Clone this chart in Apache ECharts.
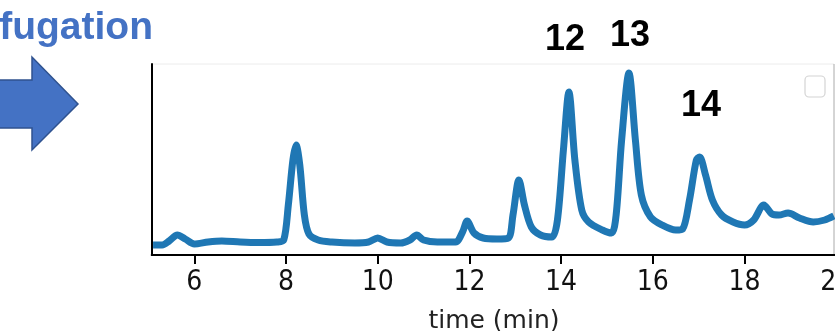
<!DOCTYPE html>
<html>
<head>
<meta charset="utf-8">
<script src="https://cdn.jsdelivr.net/npm/echarts@6/dist/echarts.min.js"></script>
<style>html,body{margin:0;padding:0;background:#fff}#c{width:835px;height:331px}</style>
</head>
<body>
<div id="c"></div>
<script>
const timeMin = [5.1,5.3,5.45,5.63,5.8,6.0,6.3,6.6,7.0,7.4,7.8,7.95,8.05,8.15,8.22,8.3,8.4,8.5,8.7,9.0,9.5,9.8,10.0,10.2,10.5,10.7,10.85,11.0,11.3,11.7,11.85,11.95,12.1,12.3,12.6,12.85,12.95,13.08,13.2,13.35,13.55,13.8,13.92,14.05,14.17,14.3,14.45,14.6,14.9,15.1,15.2,15.32,15.48,15.62,15.75,15.95,16.2,16.5,16.65,16.8,16.95,17.02,17.15,17.3,17.5,17.75,18.0,18.2,18.42,18.6,18.75,18.95,19.2,19.5,19.75,19.95];
const signal = [10,10,14,20,16,11,13,14,13,12.5,13,15,50,95,110,90,40,21,15,13,12,13,17,13,12,15,20,15,13,13,23,34,22,17,16,17,40,75,50,28,20,18,35,105,163,95,45,33,25,22,40,115,182,115,60,38,30,25,26,55,95,98,80,55,40,33,30,35,50,41,40,42,37,33,35,39];
const xTicks = [6,8,10,12,14,16,18,20];
const peakLabels = ['12','13','14'];

const chart = echarts.init(document.getElementById('c'), null, {renderer:'canvas'});
const data = timeMin.map((t,i)=>[t,signal[i]]);
chart.setOption({
  backgroundColor:'#fff',
  animation:false,
  grid:{left:151.7, top:64, right:-1.2, bottom:76, outerBoundsMode:'none', containLabel:false},
  xAxis:{
    type:'value', min:5.07, max:20,
    name:'time (min)', nameLocation:'middle', nameGap:54,
    nameTextStyle:{fontFamily:'DejaVu Sans', fontSize:25, color:'#222'},
    axisLine:{show:true, onZero:false, lineStyle:{color:'#000', width:2}},
    axisTick:{show:true, length:9, lineStyle:{color:'#000', width:2}, customValues:xTicks},
    axisLabel:{fontFamily:'"DejaVu Sans Condensed", "DejaVu Sans"', fontSize:28, color:'#111', margin:14, customValues:xTicks, showMinLabel:true, showMaxLabel:true, hideOverlap:false},
    splitLine:{show:false}
  },
  yAxis:{
    type:'value', min:0, max:191,
    axisLine:{show:true, lineStyle:{color:'#000', width:2}},
    axisTick:{show:false}, axisLabel:{show:false}, splitLine:{show:false}
  },
  series:[{
    type:'line', data:data, smooth:0.3, symbol:'none',
    lineStyle:{color:'#1f77b4', width:7, cap:'butt', join:'round'},
    clip:true, z:1
  }],
  graphic:[
    {type:'line', shape:{x1:152, y1:64, x2:834, y2:64}, style:{stroke:'#ececec', lineWidth:1}},
    {type:'line', shape:{x1:834, y1:64, x2:834, y2:255}, style:{stroke:'#aaa', lineWidth:1}},
    {type:'rect', shape:{x:805, y:76, width:20, height:21, r:4}, style:{fill:'#fff', stroke:'#d4d4d4', lineWidth:1.2}},
    {type:'polygon', shape:{points:[[-5,80],[32,80],[32,57],[78,104],[32,150],[32,128],[-5,128]]}, style:{fill:'#4472C4', stroke:'#2F528F', lineWidth:1.5}},
    {type:'text', x:153, y:28, style:{text:'fugation', font:'bold 39px "Liberation Sans", Arial, sans-serif', fill:'#4472C4', align:'right', verticalAlign:'middle'}},
    {type:'text', x:565, y:40, style:{text:peakLabels[0], font:'bold 36px "Liberation Sans", Arial, sans-serif', fill:'#000', align:'center', verticalAlign:'middle'}},
    {type:'text', x:630, y:36, style:{text:peakLabels[1], font:'bold 36px "Liberation Sans", Arial, sans-serif', fill:'#000', align:'center', verticalAlign:'middle'}},
    {type:'text', x:701, y:106, style:{text:peakLabels[2], font:'bold 36px "Liberation Sans", Arial, sans-serif', fill:'#000', align:'center', verticalAlign:'middle'}}
  ]
});
</script>
</body>
</html>
